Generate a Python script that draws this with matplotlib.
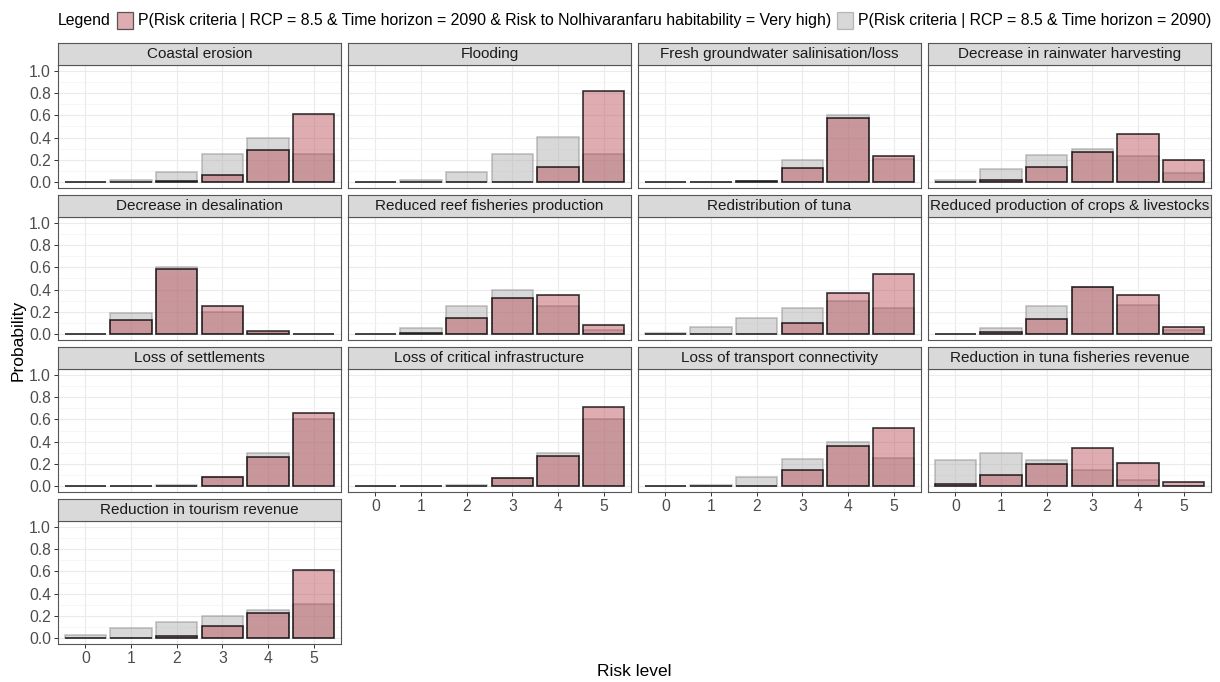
import numpy as np
import matplotlib.pyplot as plt
from matplotlib.patches import Rectangle

plt.rcParams['font.family'] = ['Liberation Sans', 'DejaVu Sans']

# risk levels on the x axis
risk_levels = [0, 1, 2, 3, 4, 5]

criteria = [
    "Coastal erosion",
    "Flooding",
    "Fresh groundwater salinisation/loss",
    "Decrease in rainwater harvesting",
    "Decrease in desalination",
    "Reduced reef fisheries production",
    "Redistribution of tuna",
    "Reduced production of crops & livestocks",
    "Loss of settlements",
    "Loss of critical infrastructure",
    "Loss of transport connectivity",
    "Reduction in tuna fisheries revenue",
    "Reduction in tourism revenue",
]

# P(criteria | RCP 8.5, 2090, habitability risk = Very high)
p_very_high = [
    [0.0, 0.0, 0.01, 0.07, 0.29, 0.61],
    [0.0, 0.0, 0.0, 0.0, 0.14, 0.82],
    [0.0, 0.0, 0.01, 0.125, 0.575, 0.235],
    [0.0, 0.02, 0.135, 0.275, 0.43, 0.20],
    [0.0, 0.13, 0.585, 0.255, 0.03, 0.0],
    [0.0, 0.01, 0.15, 0.325, 0.355, 0.085],
    [0.003, 0.0, 0.0, 0.105, 0.37, 0.54],
    [0.0, 0.02, 0.14, 0.425, 0.355, 0.068],
    [0.0, 0.0, 0.0, 0.085, 0.265, 0.66],
    [0.0, 0.0, 0.0, 0.078, 0.27, 0.71],
    [0.0, 0.0, 0.0, 0.146, 0.365, 0.52],
    [0.018, 0.10, 0.20, 0.345, 0.21, 0.04],
    [0.003, 0.0, 0.02, 0.115, 0.23, 0.615],
]

# P(criteria | RCP 8.5, 2090)
p_all = [
    [0.0, 0.02, 0.09, 0.25, 0.40, 0.25],
    [0.0, 0.02, 0.09, 0.25, 0.41, 0.25],
    [0.0, 0.0, 0.01, 0.20, 0.60, 0.21],
    [0.02, 0.12, 0.245, 0.30, 0.24, 0.08],
    [0.0, 0.195, 0.605, 0.20, 0.015, 0.0],
    [0.0, 0.06, 0.255, 0.40, 0.255, 0.035],
    [0.012, 0.068, 0.15, 0.24, 0.30, 0.24],
    [0.0, 0.06, 0.255, 0.42, 0.26, 0.04],
    [0.0, 0.0, 0.015, 0.08, 0.30, 0.60],
    [0.0, 0.0, 0.015, 0.078, 0.30, 0.605],
    [0.0, 0.015, 0.085, 0.247, 0.40, 0.25],
    [0.235, 0.30, 0.24, 0.15, 0.06, 0.005],
    [0.033, 0.095, 0.143, 0.20, 0.255, 0.305],
]

label_vh = "P(Risk criteria | RCP = 8.5 & Time horizon = 2090 & Risk to Nolhivaranfaru habitability = Very high)"
label_all = "P(Risk criteria | RCP = 8.5 & Time horizon = 2090)"

pink_face = (0.70, 0.24, 0.28, 0.42)
pink_edge = (0.0, 0.0, 0.0, 0.78)
grey_face = (0.70, 0.70, 0.70, 0.5)
grey_edge = (0.55, 0.55, 0.55, 0.55)
border = "#555555"
tick_col = "#4D4D4D"

W, H = 1220, 682
fig = plt.figure(figsize=(W / 100, H / 100), dpi=100)


def box(x, y, w, h):
    # pixel box (top-left origin) -> figure fraction
    return [x / W, 1 - (y + h) / H, w / W, h / H]


ncol = 4
pw, ph, strip_h = 283, 123, 22
for i, name in enumerate(criteria):
    r, c = divmod(i, ncol)
    left = 58 + 290 * c
    top = 65 + 152 * r

    ax = fig.add_axes(box(left, top, pw, ph))
    ax.set_axisbelow(True)
    ax.bar(risk_levels, p_all[i], width=0.9, facecolor=grey_face,
           edgecolor=grey_edge, linewidth=1.1)
    ax.bar(risk_levels, p_very_high[i], width=0.9, facecolor=pink_face,
           edgecolor=pink_edge, linewidth=1.2)
    ax.set_xlim(-0.6, 5.6)
    ax.set_ylim(-0.05, 1.05)
    ax.set_xticks(risk_levels)
    ax.set_yticks([0, 0.2, 0.4, 0.6, 0.8, 1.0])
    ax.set_yticks(np.arange(0.1, 1.0, 0.2), minor=True)
    ax.grid(True, which="major", color="#EBEBEB", linewidth=0.8)
    ax.grid(True, which="minor", axis="y", color="#F3F3F3", linewidth=0.5)
    ax.tick_params(which="minor", length=0)
    ax.tick_params(which="major", length=3, width=0.7, color="#333333",
                   labelsize=11.3, labelcolor=tick_col, pad=2)
    for s in ax.spines.values():
        s.set_color(border)
        s.set_linewidth(0.8)

    if c == 0:
        ax.set_yticklabels(["0.0", "0.2", "0.4", "0.6", "0.8", "1.0"])
    else:
        ax.tick_params(axis="y", which="both", left=False, labelleft=False)
    if i + ncol < len(criteria):
        ax.tick_params(axis="x", bottom=False, labelbottom=False)

    sax = fig.add_axes(box(left, top - strip_h, pw, strip_h))
    sax.set_facecolor("#D9D9D9")
    sax.set_xticks([])
    sax.set_yticks([])
    for s in sax.spines.values():
        s.set_color(border)
        s.set_linewidth(0.8)
    sax.text(0.5, 0.5, name, ha="center", va="center", fontsize=11,
             color="#1A1A1A", transform=sax.transAxes)

fig.text(634 / W, 1 - 672 / H, "Risk level", ha="center", va="center",
         fontsize=12.5)
fig.text(18 / W, 1 - 340 / H, "Probability", ha="center", va="center",
         rotation=90, fontsize=12.5)

# legend row across the top
renderer = fig.canvas.get_renderer()
ly = 1 - 21 / H
x = 58
t = fig.text(x / W, ly, "Legend", ha="left", va="center", fontsize=11.4)
x += t.get_window_extent(renderer).width + 6
for face, edge, lab in [(pink_face, (0.2, 0.2, 0.2, 0.8), label_vh),
                        (grey_face, grey_edge, label_all)]:
    fig.patches.append(Rectangle((x / W, 1 - 29 / H), 16 / W, 17 / H,
                                 facecolor=face, edgecolor=edge,
                                 linewidth=0.9, transform=fig.transFigure))
    x += 21
    t = fig.text(x / W, ly, lab, ha="left", va="center", fontsize=11.4)
    x += t.get_window_extent(renderer).width + 6

fig.savefig("out.png", dpi=100, facecolor="white")
